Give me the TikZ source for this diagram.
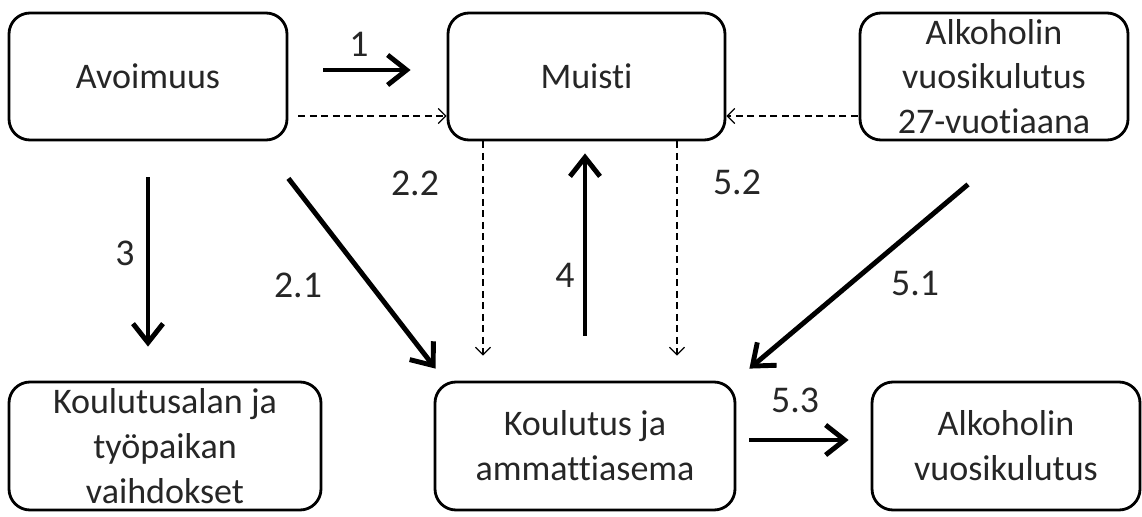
\documentclass[tikz,border=0pt]{standalone}
\usepackage{fontspec}
\setmainfont{Carlito}[RawFeature=-liga]
\usetikzlibrary{arrows.meta}

\begin{document}
\begin{tikzpicture}[
	box/.style={draw, line width=1.6pt, rounded corners=0.42cm, minimum height=2.54cm, align=center, inner sep=0pt, font=\fontsize{20.5}{25.5}\selectfont, text=black!85},
	strong/.style={line width=2.8pt, -{Straight Barb[length=0.38cm, width=0.6cm]}},
	weak/.style={line width=0.7pt, dash pattern=on 1.4mm off 0.9mm, -{Straight Barb[length=0.15cm, width=0.3cm]}},
	num/.style={font=\fontsize{21.5}{24}\selectfont, text=black!85}
]
					\useasboundingbox (0,0) rectangle (22.84,10.32);
					% boxes
					\node[box, minimum width=5.56cm] (avo)at(2.96, 8.79) {Avoimuus};
					\node[box, minimum width=5.54cm] (mui)at(11.73, 8.79) {Muisti};
					\node[box, minimum width=5.36cm] (alk27)at(19.88, 8.79) {Alkoholin\\vuosikulutus\\27-vuotiaana};
					\node[box, minimum width=6.24cm, minimum height=2.56cm] (vaihd)at(3.30, 1.40) {Koulutusalan ja\\työpaikan\\vaihdokset};
					\node[box, minimum width=6.00cm, minimum height=2.56cm] (kam)at(11.70, 1.40) {Koulutus ja\\ammattiasema};
					\node[box, minimum width=5.36cm, minimum height=2.56cm] (alkv)at(20.12, 1.40) {Alkoholin\\vuosikulutus};
					% numbers
					\node[num] (n1)at(7.18, 9.44) {1};
					\node[num] (n22)at(8.30, 6.66) {2.2};
					\node[num] (n52)at(14.74, 6.68) {5.2};
					\node[num] (n3)at(2.50, 5.26) {3};
					\node[num] (n21)at(5.96, 4.62) {2.1};
					\node[num] (n4)at(11.30, 4.82) {4};
					\node[num] (n51)at(18.30, 4.66) {5.1};
					\node[num] (n53)at(15.90, 2.32) {5.3};
					% arrows
					\draw[strong, shorten <=0.7cm, shorten >=0.72cm] ([yshift=0.13cm]avo.east) -- ([yshift=0.13cm]mui.west);
					\draw[weak, shorten <=0.2cm] ([yshift=-0.79cm]avo.east) -- ([yshift=-0.79cm]mui.west);
					\draw[weak, shorten <=0.02cm] ([yshift=-0.79cm]alk27.west) -- ([yshift=-0.79cm]mui.east);
					\draw[strong, shorten <=0.72cm, shorten >=0.68cm] (avo.south) -- (avo.south |- vaihd.north);
					\draw[strong] ([yshift=-0.74cm]avo.south east) -- ([xshift=0.04cm, yshift=0.24cm]kam.north west);
					\draw[weak, shorten >=0.5cm] ([xshift=-2.07cm]mui.south) -- ([xshift=-2.07cm]mui.south |- kam.north);
					\draw[weak, shorten >=0.5cm] ([xshift=1.81cm]mui.south) -- ([xshift=1.81cm]mui.south |- kam.north);
					\draw[strong, shorten <=0.9cm, shorten >=0.24cm] (kam.north) -- (kam.north |- mui.south);
					\draw[strong] ([xshift=-0.52cm, yshift=-0.86cm]alk27.south) -- ([xshift=0.26cm, yshift=0.24cm]kam.north east);
					\draw[strong, shorten <=0.26cm, shorten >=0.44cm] ([yshift=0.12cm]kam.east) -- ([yshift=0.12cm]kam.east -| alkv.west);
				\end{tikzpicture}
\end{document}
